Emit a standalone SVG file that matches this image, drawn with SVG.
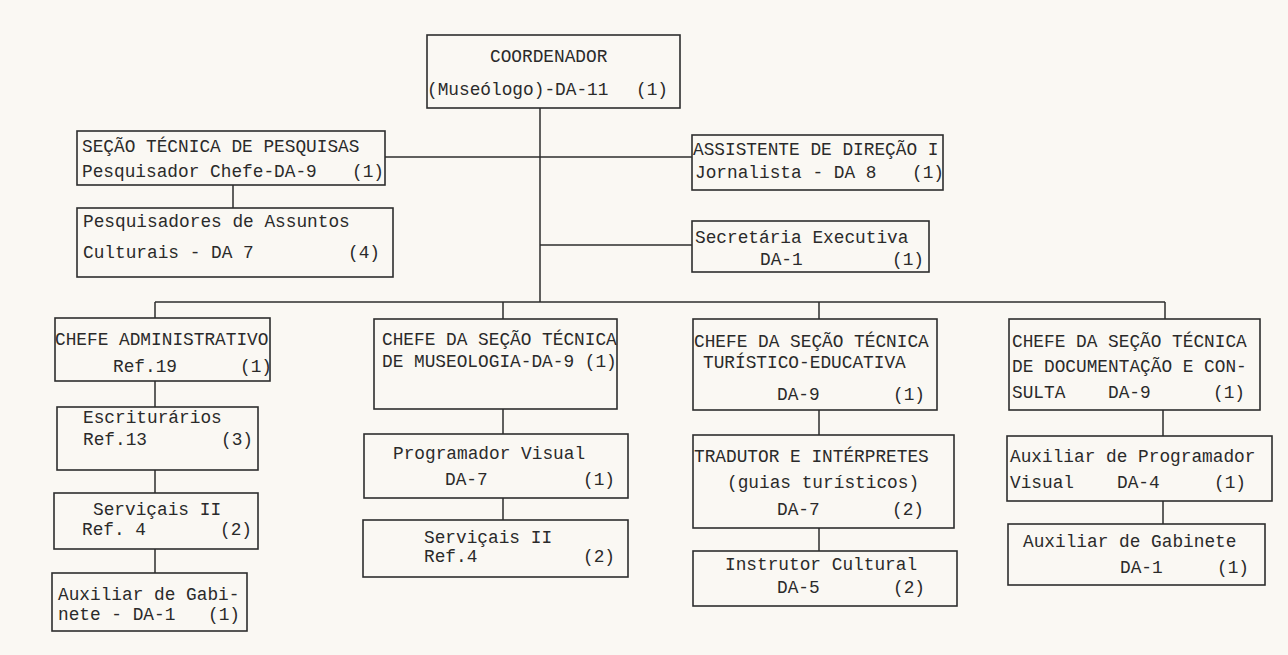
<svg xmlns="http://www.w3.org/2000/svg" width="1288" height="655" viewBox="0 0 1288 655">
<style>
.b{fill:none;stroke:#2e2e2e;stroke-width:1.6}
.c{fill:none;stroke:#2e2e2e;stroke-width:1.5}
text{font-family:"Liberation Mono","Courier New",monospace;font-size:17.8px;fill:#2a2a2a}
.e{text-anchor:end}
</style>
<rect width="1288" height="655" fill="#faf8f3"/>
<g id="connectors">
<path class="c" d="M540 108V302M385 157H692M540 245H692M233 185V208M155 302H1165M155 302V318M503 302V319M819 302V319M1165 302V319M155 381V407M155 470V493M155 549V573M503 409V434M503 498V520M819 410V435M819 528V551M1163 410V436M1163 501V524"/>
</g>
<g id="coordenador"><rect class="b" x="427" y="35" width="253" height="73"/>
<text x="490" y="62">COORDENADOR</text><text x="427" y="95">(Museólogo)-DA-11</text><text class="e" x="668" y="95">(1)</text></g>
<g id="secao-pesquisas"><rect class="b" x="77" y="131" width="308" height="54"/>
<text x="82" y="152">SEÇÃO TÉCNICA DE PESQUISAS</text><text x="82" y="177">Pesquisador Chefe-DA-9</text><text class="e" x="384" y="177">(1)</text></g>
<g id="pesquisadores"><rect class="b" x="77" y="208" width="316" height="69"/>
<text x="83" y="227">Pesquisadores de Assuntos</text><text x="83" y="258">Culturais - DA 7</text><text class="e" x="380" y="258">(4)</text></g>
<g id="assistente"><rect class="b" x="692" y="135" width="251" height="55"/>
<text x="693" y="155">ASSISTENTE DE DIREÇÃO I</text><text x="695" y="178">Jornalista - DA 8</text><text class="e" x="944" y="178">(1)</text></g>
<g id="secretaria"><rect class="b" x="692" y="221" width="237" height="51"/>
<text x="695" y="243">Secretária Executiva</text><text x="760" y="265">DA-1</text><text class="e" x="924" y="265">(1)</text></g>
<g id="chefe-admin"><rect class="b" x="55" y="318" width="215" height="63"/>
<text x="55" y="345">CHEFE ADMINISTRATIVO</text><text x="113" y="372">Ref.19</text><text class="e" x="272" y="372">(1)</text></g>
<g id="escriturarios"><rect class="b" x="57" y="407" width="201" height="63"/>
<text x="83" y="423">Escriturários</text><text x="83" y="445">Ref.13</text><text class="e" x="253" y="445">(3)</text></g>
<g id="servicais-1"><rect class="b" x="54" y="493" width="204" height="56"/>
<text x="93" y="515">Serviçais II</text><text x="82" y="535">Ref. 4</text><text class="e" x="252" y="535">(2)</text></g>
<g id="aux-gabinete-1"><rect class="b" x="52" y="573" width="195" height="58"/>
<text x="58" y="600">Auxiliar de Gabi-</text><text x="58" y="620">nete - DA-1</text><text class="e" x="240" y="620">(1)</text></g>
<g id="museologia"><rect class="b" x="374" y="319" width="243" height="90"/>
<text x="382" y="345">CHEFE DA SEÇÃO TÉCNICA</text><text x="382" y="367">DE MUSEOLOGIA-DA-9 (1)</text></g>
<g id="programador"><rect class="b" x="364" y="434" width="264" height="64"/>
<text x="393" y="459">Programador Visual</text><text x="445" y="485">DA-7</text><text class="e" x="615" y="485">(1)</text></g>
<g id="servicais-2"><rect class="b" x="363" y="520" width="265" height="57"/>
<text x="424" y="543">Serviçais II</text><text x="424" y="562">Ref.4</text><text class="e" x="615" y="562">(2)</text></g>
<g id="turistico"><rect class="b" x="693" y="319" width="244" height="91"/>
<text x="694" y="347">CHEFE DA SEÇÃO TÉCNICA</text><text x="703" y="368">TURÍSTICO-EDUCATIVA</text><text x="777" y="400">DA-9</text><text class="e" x="925" y="400">(1)</text></g>
<g id="tradutor"><rect class="b" x="693" y="435" width="261" height="93"/>
<text x="694" y="462">TRADUTOR E INTÉRPRETES</text><text x="727" y="488">(guias turísticos)</text><text x="777" y="515">DA-7</text><text class="e" x="924" y="515">(2)</text></g>
<g id="instrutor"><rect class="b" x="693" y="551" width="264" height="55"/>
<text x="725" y="570">Instrutor Cultural</text><text x="777" y="593">DA-5</text><text class="e" x="925" y="593">(2)</text></g>
<g id="documentacao"><rect class="b" x="1009" y="319" width="251" height="91"/>
<text x="1012" y="347">CHEFE DA SEÇÃO TÉCNICA</text><text x="1012" y="372">DE DOCUMENTAÇÃO E CON-</text><text x="1012" y="398">SULTA</text><text x="1108" y="398">DA-9</text><text class="e" x="1245" y="398">(1)</text></g>
<g id="aux-programador"><rect class="b" x="1007" y="436" width="265" height="65"/>
<text x="1010" y="462">Auxiliar de Programador</text><text x="1010" y="488">Visual</text><text x="1117" y="488">DA-4</text><text class="e" x="1246" y="488">(1)</text></g>
<g id="aux-gabinete-2"><rect class="b" x="1008" y="524" width="257" height="61"/>
<text x="1023" y="547">Auxiliar de Gabinete</text><text x="1120" y="573">DA-1</text><text class="e" x="1249" y="573">(1)</text></g>
</svg>
